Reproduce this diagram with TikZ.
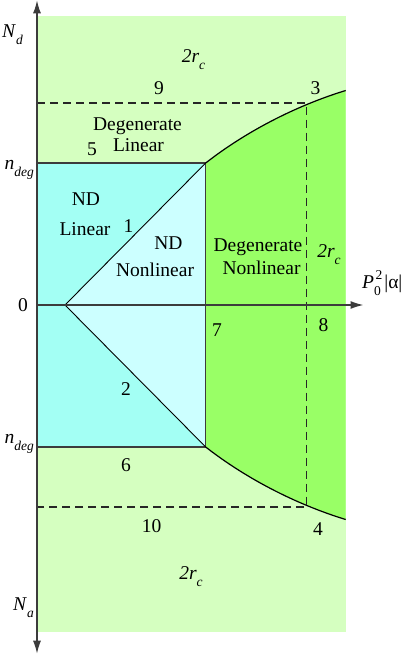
\documentclass[tikz,border=0pt]{standalone}
\usepackage{fontspec}
\setmainfont{Liberation Serif}
\usetikzlibrary{arrows.meta}
\definecolor{lgreen}{RGB}{213,255,192}
\definecolor{bgreen}{RGB}{153,255,102}
\definecolor{cyanA}{RGB}{163,255,244}
\definecolor{cyanB}{RGB}{204,255,255}
\definecolor{axgray}{RGB}{60,60,60}
\newcommand{\sbx}[1]{\raisebox{-0.36em}{\fontsize{13.5}{14}\selectfont #1}}
\newcommand{\spx}[1]{\raisebox{0.45em}{\fontsize{13.5}{14}\selectfont #1}}
\begin{document}
\begin{tikzpicture}[x=1pt,y=-1pt,
  lbl/.style={inner sep=0pt, anchor=base, font=\fontsize{19.5}{22}\selectfont},
  axisln/.style={draw=axgray, line width=1.4pt},
  borderln/.style={draw=axgray, line width=1.3pt},
  diagln/.style={draw=black, line width=0.9pt},
  curveln/.style={draw=black, line width=1.2pt},
  dashln/.style={draw=black!85, line width=1.2pt, dash pattern=on 8pt off 5pt},
  tip/.style={-{Latex[length=13pt,width=8pt]}}]
\useasboundingbox (0,0) rectangle (415,654);
% key points
\coordinate (TL) at (37,163);
\coordinate (TR) at (205.7,163);
\coordinate (BR) at (205.7,447);
\coordinate (BL) at (37,447);
\coordinate (V) at (65,305);
\coordinate (E1) at (345.7,90.5);
\coordinate (E2) at (345.7,519.5);
\coordinate (A1) at (37,103);
\coordinate (D1) at (306.5,103);
\coordinate (D2) at (306.5,507);
\coordinate (A2) at (37,507);
\coordinate (O) at (37,305);
\coordinate (Ytop) at (37,0.3);
\coordinate (Ybot) at (37,653.7);
\coordinate (Xend) at (363.5,305);
% fills
\fill[lgreen] (37,15.7) rectangle (345.7,632);
\fill[bgreen] (TR) .. controls (245.1,132.2) and (295,106) .. (E1) -- (E2)
   .. controls (295,504) and (245.1,477.8) .. (BR) -- cycle;
\fill[cyanA] (TL) rectangle (BR);
\fill[cyanB] (V) -- (TR) -- (BR) -- cycle;
% lines
\draw[borderln] (TL) -- (TR) -- (BR) -- (BL);
\draw[diagln] (V) -- (TR);
\draw[diagln] (V) -- (BR);
\draw[curveln] (TR) .. controls (245.1,132.2) and (295,106) .. (E1);
\draw[curveln] (BR) .. controls (245.1,477.8) and (295,504) .. (E2);
\draw[dashln] (A1) -- (D1) -- (D2) -- (A2);
\draw[axisln,tip] (O) -- (Ytop);
\draw[axisln,tip] (O) -- (Ybot);
\draw[axisln,tip] (O) -- (Xend);
% labels
\node[lbl, anchor=base west] (Nd) at (2,37.5) {\textit{N}\sbx{\textit{d}}};
\node[lbl, anchor=base east] (ndegT) at (34,169) {\textit{n}\sbx{\textit{deg}}};
\node[lbl, anchor=base east] (ndegB) at (34,443) {\textit{n}\sbx{\textit{deg}}};
\node[lbl, anchor=base east] (Na) at (34,610) {\textit{N}\sbx{\textit{a}}};
\node[lbl] (zero) at (23,311.5) {0};
\node[lbl] (rcT) at (193.5,62.5) {\textit{2r}\sbx{\textit{c}}};
\node[lbl] (rcR) at (329,257) {\textit{2r}\sbx{\textit{c}}};
\node[lbl] (rcB) at (191,579) {\textit{2r}\sbx{\textit{c}}};
\node[lbl] (n9) at (159,94.3) {9};
\node[lbl] (n3) at (315.5,94) {3};
\node[lbl] (n5) at (92,155) {5};
\node[lbl] (n1) at (128.5,232) {1};
\node[lbl] (n7) at (217,336) {7};
\node[lbl] (n8) at (323.5,331.7) {8};
\node[lbl] (n2) at (126,395) {2};
\node[lbl] (n6) at (126,471) {6};
\node[lbl] (n10) at (151.5,532) {10};
\node[lbl] (n4) at (318,535.7) {4};
\node[lbl] (dlA) at (137.5,130) {Degenerate};
\node[lbl] (dlB) at (138.5,151) {Linear};
\node[lbl] (ndlA) at (86,205) {ND};
\node[lbl] (ndlB) at (85,235) {Linear};
\node[lbl] (ndnA) at (168.5,249) {ND};
\node[lbl] (ndnB) at (155,276) {Nonlinear};
\node[lbl] (dnA) at (258,251) {Degenerate};
\node[lbl] (dnB) at (261.5,274) {Nonlinear};
\node[lbl, anchor=base west] (P) at (362,288) {\textit{P}\rlap{\sbx{0}}\hspace{1.5pt}\spx{2}\hspace{2pt}|α|};
\end{tikzpicture}
\end{document}
